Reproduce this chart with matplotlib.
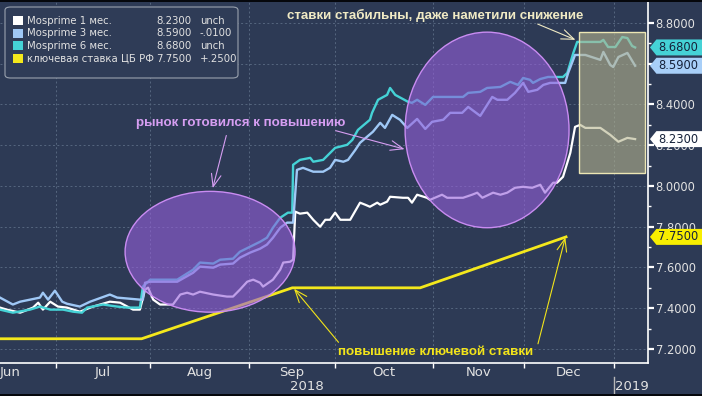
import matplotlib
matplotlib.use('Agg')
import matplotlib.pyplot as plt
from matplotlib.patches import Ellipse, Rectangle, FancyBboxPatch, Polygon
from matplotlib.lines import Line2D

# ─── palette ───
BG = '#2d3a55'
GRID = '#56667f'
C_1M = '#ffffff'
C_3M = '#9fc8f6'
C_6M = '#45d2d6'
C_KEY = '#f4e81c'
TXT = '#e2e2e2'

W, H = 702, 396

# ─── data (x = business-day index from the left edge) ───
m1_x = [0, 1.6, 4.7, 7.7, 8.9, 10.0, 11.7, 13.5, 15.6, 18.6, 21.7, 25.6, 28.0, 31.0, 32.6, 33.8, 34.5,
        35.7, 37.3, 40.3, 42.0, 43.6, 45.0, 46.6, 49.7, 52.9, 54.3, 55.9, 57.6, 59.0, 60.6, 61.3, 63.6,
        65.3, 66.0, 67.6, 68.3, 68.8, 69.9, 71.6, 73.0, 74.6, 75.8, 76.9, 78.1, 79.3, 81.6, 83.9, 85.1,
        86.2, 87.9, 88.6, 90.2, 90.9, 93.9, 95.1, 96.0, 97.2, 99.5, 100.2, 103.0, 104.2, 107.9, 110.0,
        111.2, 112.4, 114.9, 116.6, 118.2, 120.0, 121.9, 124.0, 125.9, 127.0, 128.9, 129.8, 131.2, 132.9,
        134.0, 135.2, 136.4, 139.9, 142.2, 144.1, 146.2, 148.0]
m1_y = [7.403, 7.393, 7.378, 7.403, 7.427, 7.393, 7.432, 7.408, 7.403, 7.383, 7.408, 7.432, 7.427, 7.393,
        7.393, 7.491, 7.501, 7.442, 7.418, 7.418, 7.467, 7.476, 7.467, 7.481, 7.467, 7.457, 7.457, 7.491,
        7.530, 7.540, 7.525, 7.506, 7.540, 7.589, 7.624, 7.628, 7.638, 7.874, 7.864, 7.869, 7.834, 7.800,
        7.834, 7.834, 7.869, 7.834, 7.834, 7.918, 7.908, 7.898, 7.918, 7.908, 7.923, 7.947, 7.942, 7.942,
        7.918, 7.957, 7.942, 7.932, 7.957, 7.942, 7.942, 7.957, 7.967, 7.942, 7.967, 7.957, 7.967, 7.991,
        7.996, 7.991, 8.006, 7.967, 8.016, 8.016, 8.045, 8.163, 8.290, 8.300, 8.285, 8.285, 8.251, 8.217,
        8.236, 8.230]

m3_x = [0, 3.0, 4.7, 9.3, 10.0, 11.2, 12.8, 14.5, 15.6, 18.6, 21.0, 25.6, 27.3, 32.6, 33.3, 33.8, 35.0,
        41.3, 45.0, 46.6, 49.7, 51.3, 54.3, 55.9, 58.3, 60.6, 62.2, 63.6, 65.3, 66.9, 68.3, 69.2, 70.6,
        73.0, 75.3, 76.9, 78.1, 80.0, 81.1, 82.8, 83.9, 85.5, 86.9, 88.6, 89.7, 91.4, 92.5, 93.2, 94.9,
        97.2, 99.1, 100.7, 103.3, 104.9, 107.7, 109.1, 111.9, 114.7, 115.9, 118.2, 120.0, 121.9, 123.1,
        125.2, 126.6, 128.2, 131.7, 132.4, 134.0, 136.4, 139.9, 140.6, 142.2, 142.9, 144.1, 146.2, 147.6,
        148.0]
m3_y = [7.452, 7.418, 7.432, 7.452, 7.476, 7.442, 7.486, 7.432, 7.422, 7.408, 7.432, 7.467, 7.452, 7.442,
        7.442, 7.525, 7.530, 7.530, 7.574, 7.604, 7.599, 7.614, 7.619, 7.648, 7.673, 7.692, 7.712, 7.746,
        7.795, 7.820, 7.820, 8.079, 8.089, 8.070, 8.070, 8.089, 8.128, 8.119, 8.128, 8.177, 8.212, 8.241,
        8.266, 8.310, 8.285, 8.349, 8.334, 8.325, 8.285, 8.329, 8.280, 8.315, 8.325, 8.359, 8.359, 8.388,
        8.344, 8.437, 8.423, 8.423, 8.457, 8.506, 8.462, 8.472, 8.496, 8.506, 8.506, 8.555, 8.643, 8.643,
        8.619, 8.658, 8.594, 8.584, 8.633, 8.653, 8.604, 8.590]

m6_x = [0, 3.0, 7.0, 9.3, 11.7, 14.7, 17.0, 19.1, 20.3, 24.0, 27.3, 29.6, 32.6, 33.3, 34.5, 35.0, 41.3,
        45.0, 46.6, 49.7, 51.3, 54.3, 55.9, 58.3, 60.6, 62.2, 63.6, 65.3, 67.1, 68.1, 68.3, 69.9, 72.3,
        73.0, 75.3, 78.1, 80.9, 82.1, 83.4, 86.2, 86.7, 88.1, 90.2, 90.9, 92.1, 95.1, 96.0, 97.2, 99.1,
        100.9, 107.9, 109.1, 111.9, 113.5, 116.6, 118.9, 120.7, 121.9, 123.5, 124.2, 125.9, 127.7, 131.2,
        132.2, 133.6, 134.5, 139.9, 140.6, 141.7, 143.4, 145.0, 146.2, 147.3, 148.0]
m6_y = [7.393, 7.378, 7.393, 7.408, 7.393, 7.393, 7.383, 7.378, 7.403, 7.418, 7.408, 7.403, 7.403, 7.506,
        7.530, 7.540, 7.540, 7.589, 7.624, 7.619, 7.638, 7.643, 7.677, 7.702, 7.726, 7.746, 7.795, 7.844,
        7.869, 7.869, 8.104, 8.128, 8.138, 8.119, 8.128, 8.187, 8.202, 8.226, 8.275, 8.325, 8.359, 8.423,
        8.447, 8.481, 8.447, 8.413, 8.408, 8.423, 8.398, 8.437, 8.437, 8.457, 8.462, 8.481, 8.486, 8.511,
        8.496, 8.530, 8.521, 8.506, 8.525, 8.535, 8.535, 8.555, 8.653, 8.707, 8.707, 8.717, 8.682, 8.682,
        8.731, 8.726, 8.687, 8.680]

key_x = [0, 33.0, 68.1, 97.9, 131.9]
key_y = [7.25, 7.25, 7.50, 7.50, 7.75]

legend_names = ['Mosprime 1 мес.', 'Mosprime 3 мес.', 'Mosprime 6 мес.', 'ключевая ставка ЦБ РФ']
legend_last = ['8.2300', '8.5900', '8.6800', '7.7500']
legend_chg = ['unch', '-.0100', 'unch', '+.2500']
legend_colors = [C_1M, C_3M, C_6M, C_KEY]

last_vals = [8.68, 8.59, 8.23, 7.75]
last_colors = [C_6M, '#a8cff8', '#ffffff', '#f8ee00']

y_major = [7.2, 7.4, 7.6, 7.8, 8.0, 8.2, 8.4, 8.6, 8.8]
y_minor = [7.3, 7.5, 7.7, 7.9, 8.1, 8.3, 8.5, 8.7]
y_hidden = [8.6]  # label sits fully under the last-value tags

month_bounds = [13, 35, 58, 78, 101, 122, 143]
month_names = ['Jun', 'Jul', 'Aug', 'Sep', 'Oct', 'Nov', 'Dec']
month_centers = [2.4, 24, 46.5, 68, 89.5, 111.5, 132.5]
years = ['2018', '2019']
year_centers = [71.5, 147.2]


def fx(px):
    return px / W


def fy(py):
    return 1 - py / H


fig = plt.figure(figsize=(W / 100, H / 100), dpi=100)
fig.set_facecolor(BG)
ax = fig.add_axes([0, fy(363), fx(648), fy(2) - fy(363)])
ax.set_facecolor(BG)
ax.set_xlim(0, 151)
ax.set_ylim(7.131, 8.903)

# grid
for yv in y_major:
    ax.axhline(yv, color=GRID, lw=0.7, ls=(0, (2, 2.5)), zorder=1)
for xv in month_bounds:
    ax.axvline(xv, color=GRID, lw=0.7, ls=(0, (2, 2.5)), zorder=1)

# series
ax.plot(key_x, key_y, color=C_KEY, lw=2.0, zorder=2)
ax.plot(m1_x, m1_y, color=C_1M, lw=1.6, zorder=2)
ax.plot(m6_x, m6_y, color=C_6M, lw=1.7, zorder=2)
ax.plot(m3_x, m3_y, color=C_3M, lw=1.7, zorder=2)

# highlight shapes
for cx, cy, w, h in [(48.95, 7.677, 39.6, 0.593), (113.5, 8.275, 38.2, 0.96)]:
    ax.add_patch(Ellipse((cx, cy), w, h, facecolor='#9660dc', alpha=0.6, edgecolor='none', zorder=3))
    ax.add_patch(Ellipse((cx, cy), w, h, facecolor='none', edgecolor='#c98cf2', lw=1.0, zorder=3))
ax.add_patch(Rectangle((135.0, 8.065), 15.3, 0.691, facecolor='#b6b58f', alpha=0.6,
                       edgecolor='none', zorder=3))
ax.add_patch(Rectangle((135.0, 8.065), 15.3, 0.691, facecolor='none',
                       edgecolor='#ece6b4', lw=1.0, zorder=3))

# annotations
bold = dict(family='Liberation Sans', fontweight='bold', fontsize=9.6)
arrow = '->,head_length=0.9,head_width=0.35'
ax.text(101.4, 8.839, 'ставки стабильны, даже наметили снижение', color='#f0eac4',
        ha='center', va='center', zorder=5, **bold)
ax.annotate('', xy=(134.7, 8.712), xytext=(124.7, 8.80),
            arrowprops=dict(arrowstyle=arrow, color='#f0eac4', lw=0.8), zorder=5)

ax.text(56.2, 8.310, 'рынок готовился к повышению', color='#d69ef2',
        ha='center', va='center', zorder=5, **bold)
for tail, tip in [((52.9, 8.261), (49.4, 7.976)), ((77.6, 8.275), (94.9, 8.177))]:
    ax.annotate('', xy=tip, xytext=tail,
                arrowprops=dict(arrowstyle=arrow, color='#d69ef2', lw=0.8), zorder=5)

ax.text(101.6, 7.187, 'повышение ключевой ставки', color='#f2e41a',
        ha='center', va='center', zorder=5, **bold)
for tail, tip in [((79.3, 7.222), (68.1, 7.506)), ((125.2, 7.212), (131.9, 7.761))]:
    ax.annotate('', xy=tip, xytext=tail,
                arrowprops=dict(arrowstyle=arrow, color='#f2e41a', lw=0.8), zorder=5)

# axes styling
for s in ['top', 'left']:
    ax.spines[s].set_visible(False)
for s in ['bottom', 'right']:
    ax.spines[s].set_color('white')
    ax.spines[s].set_linewidth(1.2)

ax.yaxis.tick_right()
ax.set_yticks(y_major)
ax.set_yticks(y_minor, minor=True)
ax.set_yticklabels(['' if v in y_hidden else f'{v:.4f}' for v in y_major])
ax.tick_params(axis='y', which='major', direction='out', length=4.5, width=1.6, colors='white',
               labelcolor=TXT, labelsize=8.3, pad=1)
ax.tick_params(axis='y', which='minor', direction='out', length=2.5, width=1.0, colors='white')

ax.set_xticks(month_bounds)
ax.set_xticklabels([])
ax.set_xticks(month_centers, minor=True)
ax.set_xticklabels(month_names, minor=True, family=['Liberation Sans Narrow', 'DejaVu Sans'])
ax.tick_params(axis='x', which='major', direction='out', length=3.5, width=1.0, colors='white')
ax.tick_params(axis='x', which='minor', length=0, labelcolor=TXT, labelsize=9.5, pad=2)

xt = ax.get_xaxis_transform()
for lab, xc in zip(years, year_centers):
    ax.text(xc, -0.066, lab, transform=xt, ha='center', va='center', color=TXT, fontsize=9.5,
            family=['Liberation Sans Narrow', 'DejaVu Sans'])
ax.add_line(Line2D([143, 143], [-0.04, -0.092], transform=xt, color='#b8b8b8', lw=1.0, clip_on=False))

# last-value tags on the right axis
yt = ax.get_yaxis_transform()
hh = 8 / 204
for v, c in zip(last_vals, last_colors):
    poly = Polygon([(1.003, v), (1.013, v + hh), (1.09, v + hh), (1.09, v - hh), (1.013, v - hh)],
                   closed=True, transform=yt, facecolor=c, edgecolor='none', clip_on=False, zorder=6)
    ax.add_patch(poly)
    ax.text(1.016, v, f'{v:.4f}', transform=yt, ha='left', va='center', color='#16223a',
            fontsize=8.3, clip_on=False, zorder=7)

# legend box
fig.add_artist(FancyBboxPatch((fx(5), fy(78)), fx(233), fy(7) - fy(78),
                              boxstyle='round,pad=0,rounding_size=0.008', transform=fig.transFigure,
                              facecolor='#2f3c57', edgecolor='#9aa2ae', lw=0.8))
for i, (name, last, chg, c) in enumerate(zip(legend_names, legend_last, legend_chg, legend_colors)):
    yc = 20.5 + i * 12.7
    fig.add_artist(Rectangle((fx(12.5), fy(yc + 4.5)), fx(10), fy(yc - 4.5) - fy(yc + 4.5),
                             transform=fig.transFigure, facecolor=c, edgecolor='none'))
    fig.text(fx(27.5), fy(yc), name, color=TXT, fontsize=7.3, va='center', ha='left')
    fig.text(fx(156.5), fy(yc), last, color=TXT, fontsize=7.3, va='center', ha='left')
    fig.text(fx(200), fy(yc), chg, color=TXT, fontsize=7.3, va='center', ha='left')

# thin dark frame top and bottom
fig.add_artist(Rectangle((0, fy(2)), 1, fy(0) - fy(2), transform=fig.transFigure,
                         facecolor='#05070c', edgecolor='none'))
fig.add_artist(Rectangle((0, 0), 1, fy(394), transform=fig.transFigure,
                         facecolor='#05070c', edgecolor='none'))

fig.savefig('out.png', dpi=100, facecolor=BG)
